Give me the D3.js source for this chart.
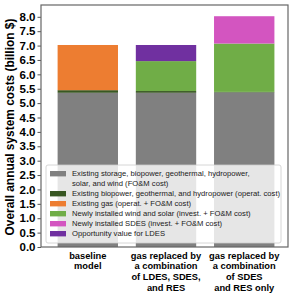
<!DOCTYPE html>
<html>
<head>
<meta charset="utf-8">
<script src="https://cdn.jsdelivr.net/npm/d3@7"></script>
<style>
  body { margin: 0; background: #fff; }
  svg { display: block; }
</style>
</head>
<body>
<div id="chart"></div>
<script>
// scenario names (x labels, one array of lines per bar)
const categories = [
  ["baseline", "model"],
  ["gas replaced by", "a combination", "of LDES, SDES,", "and RES"],
  ["gas replaced by", "a combination", "of SDES", "and RES only"]
];

// stacked components, bottom to top
const seriesNames = [
  ["Existing storage, biopower, geothermal, hydropower,", "solar, and wind (FO&M cost)"],
  ["Existing biopower, geothermal, and hydropower (operat. cost)"],
  ["Existing gas (operat. + FO&M cost)"],
  ["Newly installed wind and solar (invest. + FO&M cost)"],
  ["Newly installed SDES (invest. + FO&M cost)"],
  ["Opportunity value for LDES"]
];
const seriesColors = ["#808080", "#385723", "#ED7D31", "#70AD47", "#D355C0", "#7030A0"];

const existingStorage = [5.36, 5.36, 5.37];
const existingBio     = [0.09, 0.06, 0.02];
const existingGas     = [1.57, 0, 0];
const newWindSolar    = [0, 1.04, 1.68];
const newSdes         = [0, 0, 0.95];
const ldesValue       = [0, 0.56, 0];

const yTicks = [0, 0.5, 1, 1.5, 2, 2.5, 3, 3.5, 4, 4.5, 5, 5.5, 6, 6.5, 7, 7.5, 8];

const series = [existingStorage, existingBio, existingGas, newWindSolar, newSdes, ldesValue];

const W = 299, H = 298;
const margin = { left: 41, right: 11, top: 5, bottom: 51 };
const pw = W - margin.left - margin.right;
const ph = H - margin.top - margin.bottom;
const font = "Liberation Sans, Arial, sans-serif";

const svg = d3.select("#chart").append("svg")
  .attr("width", W).attr("height", H);
const g = svg.append("g").attr("transform", `translate(${margin.left},${margin.top})`);

const y = d3.scaleLinear().domain([0, 8.41]).range([ph, 0]);
const x = d3.scaleBand().domain(d3.range(categories.length))
  .range([0, pw]).paddingInner(0.228).paddingOuter(0.193).align(0.55);

// stacks
const stacked = categories.map((c, i) => {
  let base = 0;
  return series.map((s, k) => {
    const d = { cat: i, k, y0: base, y1: base + s[i] };
    base += s[i];
    return d;
  });
});

g.selectAll("g.bar").data(stacked).join("g")
  .selectAll("rect").data(d => d.filter(p => p.y1 > p.y0)).join("rect")
  .attr("x", d => x(d.cat))
  .attr("width", x.bandwidth())
  .attr("y", d => y(d.y1))
  .attr("height", d => y(d.y0) - y(d.y1))
  .attr("fill", d => seriesColors[d.k]);

// axes
const yAxis = g.append("g").call(d3.axisLeft(y).tickValues(yTicks).tickFormat(d3.format(".1f")).tickSize(3.5).tickPadding(2));
yAxis.selectAll("text")
  .style("font-family", font)
  .style("font-weight", "bold").style("font-size", "11.5px").attr("fill", "#000");
yAxis.selectAll("line").attr("stroke", "#555");
yAxis.select(".domain").remove();

// frame
g.append("rect").attr("x", 0).attr("y", 0).attr("width", pw).attr("height", ph)
  .attr("fill", "none").attr("stroke", "#666").attr("stroke-width", 1.2);

// y label
svg.append("text")
  .attr("transform", `translate(14,${margin.top + ph / 2 + 1}) rotate(-90)`)
  .attr("text-anchor", "middle")
  .style("font-family", font)
  .style("font-weight", "bold").style("font-size", "11.9px")
  .text("Overall annual system costs (billion $)");

// x labels
categories.forEach((lines, i) => {
  const cx = x(i) + x.bandwidth() / 2;
  const t = g.append("text")
    .attr("x", cx)
    .attr("y", ph + 11.5)
    .attr("text-anchor", "middle")
    .style("font-family", font)
    .style("font-weight", "bold").style("font-size", "9.3px");
  lines.forEach((l, j) => t.append("tspan").attr("x", cx).attr("dy", j ? 10.9 : 0).text(l));
});

// legend
const lg = g.append("g").attr("transform", "translate(5,160)");
lg.append("rect").attr("width", 235).attr("height", 78).attr("rx", 2)
  .attr("fill", "#fff").attr("fill-opacity", 0.8).attr("stroke", "#ccc").attr("stroke-width", 0.8);
let ly = 8.7;
seriesNames.forEach((lines, k) => {
  lg.append("rect").attr("x", 4).attr("y", ly - 2.7).attr("width", 16).attr("height", 5.4)
    .attr("fill", seriesColors[k]);
  const t = lg.append("text").attr("x", 26).attr("y", ly + 2.6)
    .style("font-family", font).style("font-size", "7.65px").attr("fill", "#1a1a1a");
  lines.forEach((l, j) => t.append("tspan").attr("x", 26).attr("dy", j ? 9.5 : 0).text(l));
  ly += 10 * lines.length;
});
</script>
</body>
</html>
